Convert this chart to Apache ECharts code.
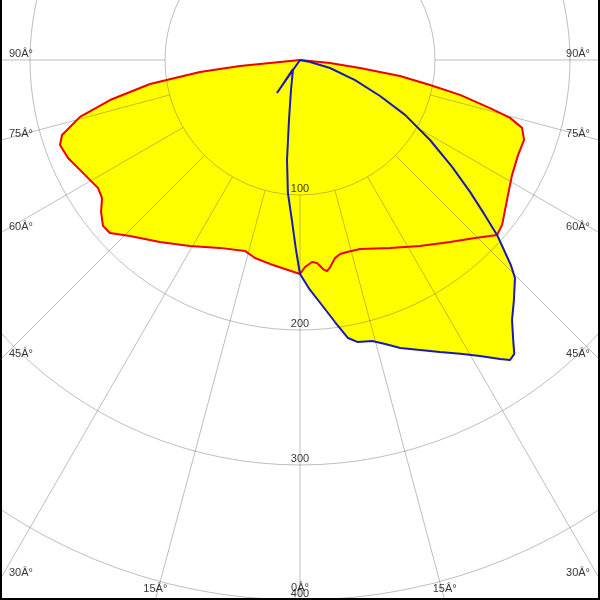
<!DOCTYPE html>
<html><head><meta charset="utf-8">
<script src="https://cdn.jsdelivr.net/npm/echarts@6/dist/echarts.min.js"></script>
<style>html,body{margin:0;padding:0;background:#fff}#c{width:600px;height:600px}</style>
</head><body><div id="c"></div>
<script>
// ---- data ----
const radiusTicks = [100, 200, 300, 400];
const radiusTickLabels = ['100', '200', '300', '400'];
const angleTicks = [-90, -75, -60, -45, -30, -15, 0, 15, 30, 45, 60, 75, 90];
const angleTickLabels = ['90\u00C2\u00B0','75\u00C2\u00B0','60\u00C2\u00B0','45\u00C2\u00B0','30\u00C2\u00B0','15\u00C2\u00B0','0\u00C2\u00B0','15\u00C2\u00B0','30\u00C2\u00B0','45\u00C2\u00B0','60\u00C2\u00B0','75\u00C2\u00B0','90\u00C2\u00B0'];

const redAngles = [-90,-84.3,-84.3,-83.2,-80.9,-78.1,-75.5,-72.5,-70.5,-67.1,-61.9,-57.6,-55.1,-52.6,-49.9,-47.7,-44.0,-37.6,-30.6,-23.1,-16.1,-12.8,-8.4,-4.1,0,1.4,3.4,4.8,6.3,7.3,8.3,10.0,11.7,13.8,17.6,25.6,32.8,39.5,44.5,48.4,50.8,53.8,57.0,61.5,66.5,70.4,73.0,74.6,75.8,77.7,79.1,80.9,82.4,84.3,90];
const redValues = [0,22.3,44.7,74.6,112.5,143.8,168.3,184.8,188.6,186.5,180.6,177.1,178.8,185.5,190.8,190.4,181.3,170.1,160.1,151.3,147.2,150.4,152.7,155.2,158.5,153.4,149.9,150.9,155.8,157.6,155.0,149.0,146.7,146.4,146.9,154.4,164.0,174.7,184.9,195.2,193.2,188.2,183.7,178.7,176.2,176.2,172.0,161.4,145.2,121.3,98.1,75.0,44.8,22.3,0];

const blueAngles = [-90,-34.9,-37.9,-16.7,-10.4,-7.4,-5.2,-2.9,-1.2,0,2.5,5.1,7.6,9.8,11.6,14.4,16.7,19.2,22.5,25.6,28.6,31.3,33.8,35.0,36.1,37.3,39.2,41.7,44.6,45.8,47.2,48.4,50.0,52.2,54.9,58.4,62.4,65.8,70.0,75.1,78.7,90];
const blueValues = [0,29.8,8.4,23.2,45.2,74.7,98.9,118.7,140.8,158.5,170.5,182.2,195.8,209.0,213.3,214.9,219.6,225.9,232.5,239.9,247.9,256.6,266.5,271.3,269.4,260.6,248.5,238.2,226.8,217.9,205.0,195.2,178.8,159.4,137.7,113.1,87.8,65.0,43.4,23.0,7.6,0];

// ---- layout ----
const W = 600, H = 600;
const CX = 300, CY = 60;
const R_MAX = 500;
const SPOKE_START = 100;          // spokes are drawn from the 100 circle outward
const PXU = 1.35;                 // pixels per unit
const GRID = 'rgba(100,100,100,0.42)';
const NONE = 'rgba(0,0,0,0)';
const FONT = {fontFamily: 'Liberation Sans', fontSize: 11, color: '#000'};

const pair = (vals, angs) => vals.map((v, i) => [v, angs[i]]);

// angle split line colours: only -90..90 visible
const angleColors = [];
for (let a = -180; a <= 180; a += 15) angleColors.push(Math.abs(a) <= 90 ? GRID : NONE);

// angle labels sit where each spoke meets the frame
const angleLabelData = angleTicks.map((a, i) => {
  const s = Math.abs(Math.sin(a * Math.PI / 180));
  const c = Math.abs(Math.cos(a * Math.PI / 180));
  let rpx, label;
  if (Math.abs(a) >= 30) {
    rpx = (W / 2) / s;
    label = a < 0 ? {align: 'left', verticalAlign: 'bottom', offset: [9, -1]}
                  : {align: 'right', verticalAlign: 'bottom', offset: [-10, -1]};
  } else {
    rpx = (H - CY) / c;
    label = {align: 'center', verticalAlign: 'bottom', offset: [0, a === 0 ? -7 : -6]};
  }
  return {value: [rpx / PXU, a], name: angleTickLabels[i], label: label};
});
const radiusLabelData = radiusTicks.map((r, i) => ({
  value: [r, 0], name: radiusTickLabels[i],
  label: {align: 'center', verticalAlign: 'bottom', offset: [0, -1]}
}));

const hiddenAxis = {axisLine: {show: false}, axisTick: {show: false}, axisLabel: {show: false}};
const lineBase = {type: 'line', coordinateSystem: 'polar', polarIndex: 0, showSymbol: false};

const chart = echarts.init(document.getElementById('c'), null, {renderer: 'canvas'});
chart.setOption({
  animation: false,
  backgroundColor: '#fff',
  polar: [
    {center: [CX, CY], radius: R_MAX * PXU},
    {center: [CX, CY], radius: [SPOKE_START * PXU, R_MAX * PXU]}
  ],
  angleAxis: [
    Object.assign({polarIndex: 0, type: 'value', min: -180, max: 180, interval: 15,
      startAngle: 90, clockwise: false, z: 5, splitLine: {show: false}}, hiddenAxis),
    Object.assign({polarIndex: 1, type: 'value', min: -180, max: 180, interval: 15,
      startAngle: 90, clockwise: false, z: 5,
      splitLine: {show: true, lineStyle: {color: angleColors, width: 1}}}, hiddenAxis)
  ],
  radiusAxis: [
    Object.assign({polarIndex: 0, type: 'value', min: 0, max: R_MAX, interval: 100, z: 5,
      splitLine: {show: true, lineStyle: {color: GRID, width: 1}}}, hiddenAxis),
    Object.assign({polarIndex: 1, type: 'value', min: SPOKE_START, max: R_MAX, interval: 100, z: 5,
      splitLine: {show: false}}, hiddenAxis)
  ],
  series: [
    Object.assign({}, lineBase, {data: pair(redValues, redAngles), z: 1,
      lineStyle: {width: 0, opacity: 0}, areaStyle: {color: '#ffff00', opacity: 1}}),
    Object.assign({}, lineBase, {data: pair(blueValues, blueAngles), z: 1,
      lineStyle: {width: 0, opacity: 0}, areaStyle: {color: '#ffff00', opacity: 1}}),
    Object.assign({}, lineBase, {data: pair(redValues, redAngles), z: 10,
      lineStyle: {width: 2, color: '#ee0000'}}),
    Object.assign({}, lineBase, {data: pair(blueValues, blueAngles), z: 11,
      lineStyle: {width: 2, color: '#1a1ab0'}}),
    {type: 'scatter', coordinateSystem: 'polar', polarIndex: 0, data: angleLabelData, symbolSize: 1, z: 12,
     itemStyle: {color: NONE}, silent: true,
     label: Object.assign({show: true, position: 'inside', formatter: '{b}'}, FONT)},
    {type: 'scatter', coordinateSystem: 'polar', polarIndex: 0, data: radiusLabelData, symbolSize: 1, z: 12,
     itemStyle: {color: NONE}, silent: true,
     label: Object.assign({show: true, position: 'inside', formatter: '{b}'}, FONT)}
  ],
  graphic: [{
    type: 'polyline', z: 100, silent: true,
    shape: {points: [[1, 0], [1, H - 1], [W - 1, H - 1], [W - 1, 0]]},
    style: {fill: 'none', stroke: '#000', lineWidth: 2}
  }]
});
</script></body></html>
